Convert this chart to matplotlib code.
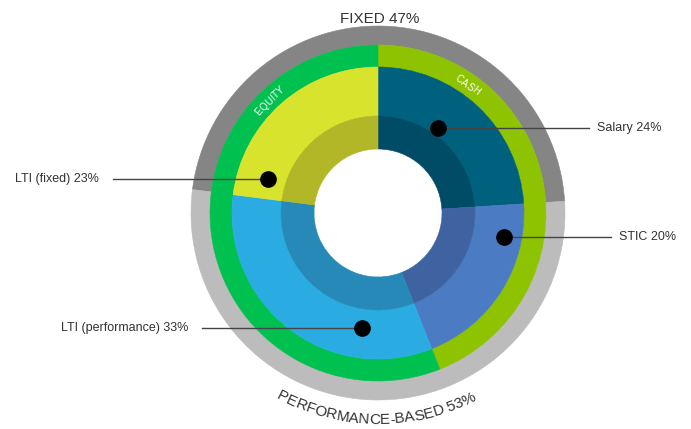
import matplotlib.pyplot as plt
import numpy as np

plt.rcParams['font.family'] = ['Liberation Sans', 'DejaVu Sans']

# components, clockwise from 12 o'clock
labels = ['Salary', 'STIC', 'LTI (performance)', 'LTI (fixed)']
shares = [24, 20, 33, 23]
main_colors = ['#00617f', '#4a7bc3', '#2aabe2', '#d8e32e']
inner_colors = ['#004b66', '#3e63a0', '#2689b8', '#b2b727']

# green ring: cash / equity
vehicle_names = ['CASH', 'EQUITY']
vehicle_shares = [44, 56]
vehicle_colors = ['#8dc300', '#00c04f']

# grey ring: fixed / performance-based
pay_names = ['FIXED', 'PERFORMANCE-BASED']
pay_shares = [47, 53]
pay_colors = ['#858585', '#bcbcbc']

# callout layout: dot (angle deg, radius px), line end x, label side
dot_pos = [(55, 104), (-11, 128), (-98, 116), (163, 115)]
line_end = [589, 611, 202, 113]
side = ['right', 'right', 'left', 'left']

W, H = 691, 429
cx, cy = 378, 216
r_hole, r_inner, r_main, r_green, r_grey = 64, 97, 146, 168, 187
txt_col = '#333333'

fig = plt.figure(figsize=(W / 100, H / 100), dpi=100)
ax = fig.add_axes([0, 0, 1, 1])


def ring(vals, cols, r, w, start=90, ccw=False):
    wedges, _ = ax.pie(vals, colors=cols, radius=r, center=(cx, cy),
                       startangle=start, counterclock=ccw,
                       wedgeprops=dict(width=w, linewidth=0.4))
    for wd in wedges:
        wd.set_edgecolor(wd.get_facecolor())


ring(pay_shares, pay_colors, r_grey, r_grey - r_green,
     start=90 - shares[0] * 3.6, ccw=True)
ring(vehicle_shares, vehicle_colors, r_green, r_green - r_main)
ring(shares, main_colors, r_main, r_main - r_inner)
ring(shares, inner_colors, r_inner, r_inner - r_hole)

ax.set_xlim(0, W)
ax.set_ylim(0, H)
ax.set_aspect('equal')
ax.axis('off')

renderer = fig.canvas.get_renderer()


def text_width(s, **kw):
    t = ax.text(0, 0, s.replace(' ', 'i'), **kw)
    w = t.get_window_extent(renderer).width
    t.remove()
    return w


def arc_text(s, r, mid, top_out, **kw):
    total = text_width(s, **kw)
    for i, ch in enumerate(s):
        if ch == ' ':
            continue
        a = text_width(s[:i], **kw) if i else 0
        b = text_width(s[:i + 1], **kw)
        pos = (a + b) / 2 - total / 2
        if top_out:
            ang = mid - np.degrees(pos / r)
            rot = ang - 90
        else:
            ang = mid + np.degrees(pos / r)
            rot = ang + 90
        x = cx + r * np.cos(np.radians(ang))
        y = cy + r * np.sin(np.radians(ang))
        ax.text(x, y, ch, rotation=rot, rotation_mode='anchor',
                ha='center', va='baseline', **kw)


# ring captions
arc_text(vehicle_names[0], 153, 55, True, color='white', fontsize=7)
arc_text(vehicle_names[1], 153, 134, True, color='white', fontsize=7)
ax.text(cx + 2, H - 23, f'{pay_names[0]} {pay_shares[0]}%', ha='center',
        va='baseline', fontsize=11, color=txt_col)
arc_text(f'{pay_names[1]} {pay_shares[1]}%', 211, -90.5, False,
         fontsize=11, color=txt_col)

# callouts
for lab, v, (ang, rr), xe, sd in zip(labels, shares, dot_pos, line_end, side):
    x = cx + rr * np.cos(np.radians(ang))
    y = cy + rr * np.sin(np.radians(ang))
    ax.plot([x, xe], [y, y], color='#444444', lw=1, zorder=5)
    ax.plot(x, y, 'o', color='black', ms=11, zorder=6)
    if sd == 'right':
        ax.text(xe + 8, y, f'{lab} {v}%', ha='left', va='center',
                fontsize=9, color=txt_col)
    else:
        ax.text(xe - 14, y, f'{lab} {v}%', ha='right', va='center',
                fontsize=9, color=txt_col)

fig.savefig('out.png', dpi=100)
